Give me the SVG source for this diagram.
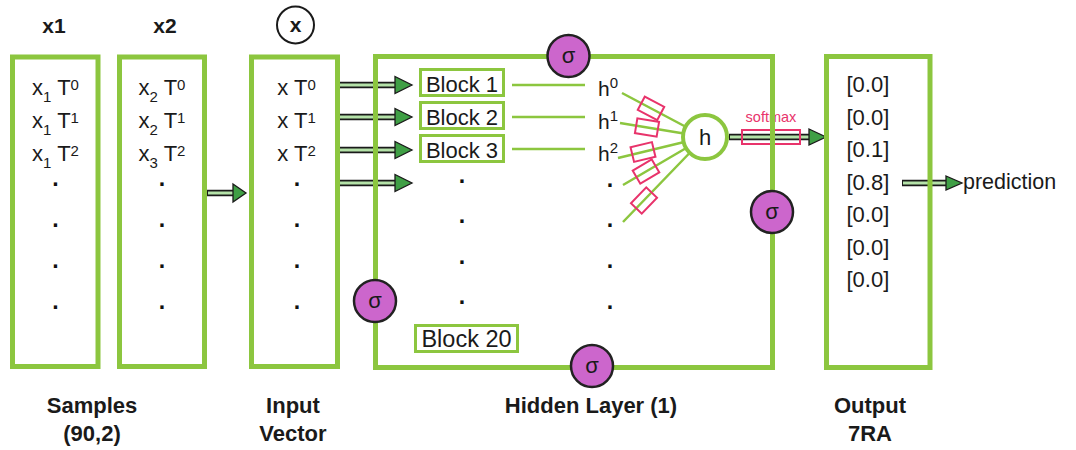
<svg xmlns="http://www.w3.org/2000/svg" width="1076" height="450" viewBox="0 0 1076 450">
<style>
.box{fill:none;stroke:#8cc63f;stroke-width:5}
.blk{fill:#fff;stroke:#8cc63f;stroke-width:3}
.t{font-family:"Liberation Sans",Arial,sans-serif;fill:#1a1a1a;font-size:22px}
.c{text-anchor:middle}
.b{font-weight:bold}
.d{font-weight:bold;font-size:23px;fill:#111}
.s{font-size:15px}
.gl{stroke:#8cc63f;stroke-width:2.5;fill:none}
.pk{fill:none;stroke:#e8336b;stroke-width:2}
.sig{fill:#cc66cc;stroke:#222;stroke-width:2.5}
.sh-o{stroke:#1a1a1a;stroke-width:6.5;fill:none}
.sh-i{stroke:#b4e2a8;stroke-width:3;fill:none}
.hd{fill:#3f9f45;stroke:#1a1a1a;stroke-width:1.3}
</style>
<rect width="1076" height="450" fill="#fff"/>

<g id="connectors">
  <path class="sh-o" d="M207 193H234"/><path class="sh-i" d="M208 193H234"/><path class="hd" d="M233 184L246 193L233 202Z"/>
  <path class="sh-o" d="M338 85H397"/><path class="sh-i" d="M339 85H397"/><path class="hd" d="M395 76.5L412 85L395 93.5Z"/>
  <path class="sh-o" d="M338 117H397"/><path class="sh-i" d="M339 117H397"/><path class="hd" d="M395 108.5L412 117L395 125.5Z"/>
  <path class="sh-o" d="M338 150H397"/><path class="sh-i" d="M339 150H397"/><path class="hd" d="M395 141.5L412 150L395 158.5Z"/>
  <path class="sh-o" d="M338 183H397"/><path class="sh-i" d="M339 183H397"/><path class="hd" d="M395 174.5L412 183L395 191.5Z"/>
  <path class="gl" d="M512 85H585M512 117H585M512 149H585"/>
  <path class="gl" stroke-width="3" d="M622 93L705 137M620 123L705 137M618 158L705 137M623 185L705 137M623 222L705 137"/>
  <rect class="pk" x="-11" y="-7.5" width="22" height="15" transform="translate(651 108.4) rotate(27.9)"/>
  <rect class="pk" x="-11" y="-7.5" width="22" height="15" transform="translate(647 127.5) rotate(9.4)"/>
  <rect class="pk" x="-11" y="-7.5" width="22" height="15" transform="translate(643 152) rotate(-13.6)"/>
  <rect class="pk" x="-11" y="-7.5" width="22" height="15" transform="translate(646 171.5) rotate(-30.3)"/>
  <rect class="pk" x="-11" y="-7.5" width="22" height="15" transform="translate(644 200.5) rotate(-46)"/>
  <path class="sh-o" d="M729 137H810"/><path class="sh-i" d="M730 137H810"/><path class="hd" d="M809 129L826 137L809 145Z"/>
  <rect class="pk" x="742" y="130" width="58" height="14"/>
  <text class="t c" x="771" y="122" style="font-size:14.5px;fill:#e8336b">softmax</text>
  <path class="sh-o" d="M902 183H947"/><path class="sh-i" d="M903 183H947"/><path class="hd" d="M946 176L962 183L946 190Z"/>
</g>

<g id="header-x1"><text class="t b c" x="54" y="33" style="font-size:21px">x1</text></g>
<g id="header-x2"><text class="t b c" x="165" y="33" style="font-size:21px">x2</text></g>
<g id="header-x">
  <circle cx="295.5" cy="25" r="18.5" fill="#fff" stroke="#1a1a1a" stroke-width="2"/>
  <text class="t b c" x="295.5" y="31.5" style="font-size:21px">x</text>
</g>

<g id="samples-x1">
  <rect class="box" x="12.5" y="57" width="85.5" height="309.5"/>
  <text class="t c" x="55.5" y="95">x<tspan class="s" dy="7">1</tspan><tspan dy="-7"> T</tspan><tspan class="s" dy="-5">0</tspan></text>
  <text class="t c" x="55.5" y="128">x<tspan class="s" dy="7">1</tspan><tspan dy="-7"> T</tspan><tspan class="s" dy="-5">1</tspan></text>
  <text class="t c" x="55.5" y="160.5">x<tspan class="s" dy="7">1</tspan><tspan dy="-7"> T</tspan><tspan class="s" dy="-5">2</tspan></text>
  <text class="t c d" x="55.5" y="186">.</text><text class="t c d" x="55.5" y="227">.</text><text class="t c d" x="55.5" y="268">.</text><text class="t c d" x="55.5" y="309">.</text>
</g>

<g id="samples-x2">
  <rect class="box" x="119.5" y="57" width="85" height="309.5"/>
  <text class="t c" x="162" y="95">x<tspan class="s" dy="7">2</tspan><tspan dy="-7"> T</tspan><tspan class="s" dy="-5">0</tspan></text>
  <text class="t c" x="162" y="128">x<tspan class="s" dy="7">2</tspan><tspan dy="-7"> T</tspan><tspan class="s" dy="-5">1</tspan></text>
  <text class="t c" x="162" y="160.5">x<tspan class="s" dy="7">3</tspan><tspan dy="-7"> T</tspan><tspan class="s" dy="-5">2</tspan></text>
  <text class="t c d" x="162" y="186">.</text><text class="t c d" x="162" y="227">.</text><text class="t c d" x="162" y="268">.</text><text class="t c d" x="162" y="309">.</text>
</g>

<g id="input-vector">
  <rect class="box" x="251.5" y="57" width="86" height="309.5"/>
  <text class="t c" x="296.5" y="95">x T<tspan class="s" dy="-5">0</tspan></text>
  <text class="t c" x="296.5" y="128">x T<tspan class="s" dy="-5">1</tspan></text>
  <text class="t c" x="296.5" y="160.5">x T<tspan class="s" dy="-5">2</tspan></text>
  <text class="t c d" x="297" y="186">.</text><text class="t c d" x="297" y="227">.</text><text class="t c d" x="297" y="268">.</text><text class="t c d" x="297" y="309">.</text>
</g>

<g id="hidden-layer">
  <rect class="box" x="375.5" y="56.5" width="397" height="311"/>
  <text class="t c d" x="462" y="183">.</text><text class="t c d" x="462" y="223">.</text><text class="t c d" x="462" y="264">.</text><text class="t c d" x="462" y="304">.</text>
  <text class="t c d" x="610" y="187">.</text><text class="t c d" x="610" y="227">.</text><text class="t c d" x="610" y="268">.</text><text class="t c d" x="610" y="309">.</text>
  <text class="t" x="598" y="96" style="font-size:21px">h<tspan class="s" dy="-8">0</tspan></text>
  <text class="t" x="598" y="129" style="font-size:21px">h<tspan class="s" dy="-8">1</tspan></text>
  <text class="t" x="598" y="161" style="font-size:21px">h<tspan class="s" dy="-8">2</tspan></text>
</g>

<g id="block-1"><rect class="blk" x="420.5" y="69.5" width="83" height="26"/><text class="t c" x="462" y="91.5">Block 1</text></g>
<g id="block-2"><rect class="blk" x="420.5" y="102.5" width="83" height="26"/><text class="t c" x="462" y="124.5">Block 2</text></g>
<g id="block-3"><rect class="blk" x="420.5" y="135.5" width="83" height="26"/><text class="t c" x="462" y="157.5">Block 3</text></g>
<g id="block-20"><rect class="blk" x="415.5" y="325.5" width="102" height="26"/><text class="t c" x="466.5" y="347" style="font-size:23.5px">Block 20</text></g>

<g id="h-node">
  <circle cx="705" cy="137" r="22" fill="#fff" stroke="#8cc63f" stroke-width="4"/>
  <text class="t c" x="705" y="145">h</text>
</g>

<g id="sigma-top"><circle class="sig" cx="568.5" cy="56" r="21"/><text class="t c" x="568.5" y="63">σ</text></g>
<g id="sigma-left"><circle class="sig" cx="375" cy="301" r="21"/><text class="t c" x="375" y="308">σ</text></g>
<g id="sigma-bottom"><circle class="sig" cx="592" cy="366" r="21"/><text class="t c" x="592" y="373">σ</text></g>
<g id="sigma-right"><circle class="sig" cx="772" cy="212" r="21"/><text class="t c" x="772" y="219">σ</text></g>

<g id="output">
  <rect class="box" x="826.5" y="56.5" width="103.5" height="311"/>
  <text class="t" x="846.5" y="92">[0.0]</text>
  <text class="t" x="846.5" y="124.5">[0.0]</text>
  <text class="t" x="846.5" y="157">[0.1]</text>
  <text class="t" x="846.5" y="189.5">[0.8]</text>
  <text class="t" x="846.5" y="222">[0.0]</text>
  <text class="t" x="846.5" y="254.5">[0.0]</text>
  <text class="t" x="846.5" y="287">[0.0]</text>
</g>

<g id="prediction"><text class="t" x="963" y="189" style="font-size:21.5px">prediction</text></g>

<g id="labels">
  <text class="t b c" x="92" y="413">Samples</text>
  <text class="t b c" x="92" y="441">(90,2)</text>
  <text class="t b c" x="293" y="413">Input</text>
  <text class="t b c" x="293" y="441">Vector</text>
  <text class="t b c" x="591" y="413">Hidden Layer (1)</text>
  <text class="t b c" x="870" y="413">Output</text>
  <text class="t b c" x="870" y="441">7RA</text>
</g>
</svg>
